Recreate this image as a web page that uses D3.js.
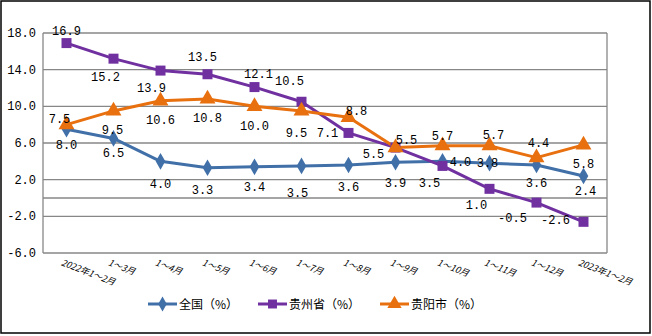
<!DOCTYPE html>
<html><head><meta charset="utf-8">
<script src="https://cdn.jsdelivr.net/npm/d3@7"></script>
<style>body{margin:0;background:#fff}svg{display:block}</style>
</head><body>
<svg id="c" width="652" height="336"></svg>
<script>
const categories = ["2022年1～2月","1～3月","1～4月","1～5月","1～6月","1～7月","1～8月","1～9月","1～10月","1～11月","1～12月","2023年1～2月"];
const national = [7.5, 6.5, 4.0, 3.3, 3.4, 3.5, 3.6, 3.9, 4.0, 3.8, 3.6, 2.4];
const guizhou = [16.9, 15.2, 13.9, 13.5, 12.1, 10.5, 7.1, 5.5, 3.5, 1.0, -0.5, -2.6];
const guiyang = [8.0, 9.5, 10.6, 10.8, 10.0, 9.5, 8.8, 5.5, 5.7, 5.7, 4.4, 5.8];
const yTicks = [18, 14, 10, 6, 2, -2, -6];
const seriesNames = ["全国（%）","贵州省（%）","贵阳市（%）"];

// label offsets (dx, dy) relative to point, per series
const offNational = [[-7,-10],[0,15],[0,23],[-5,22],[0,20],[-4,27],[0,22],[0,21],[18,1],[-2,0],[0,18],[2,15]];
const offGuizhou = [[0,-12],[-8,18],[-9,17],[-5,-17],[4,-13],[-12,-21],[-21,0],[-22,6],[-13,17],[-13,16],[-24,15],[-28,-2]];
const offGuiyang = [[0,20],[-1,19],[0,19],[0,19],[0,20],[-5,22],[8,-6],[11,-8],[0,-10],[4,-11],[2,-15],[0,19]];

const svg = d3.select("#c");
const L = 43, R = 607, T = 33, B = 253;
const x = d3.scaleBand().domain(categories).range([L, R]);
const y = d3.scaleLinear().domain([-6, 18]).range([B, T]);
const cx = c => x(c) + x.bandwidth() / 2;

svg.append("rect").attr("x",1).attr("y",1).attr("width",649).attr("height",332)
  .attr("fill","#fff").attr("stroke","#000").attr("stroke-width",1.5);

const grid = "#878787";
svg.append("g").selectAll("line").data(yTicks).join("line")
  .attr("x1",L).attr("x2",R).attr("y1",d=>y(d)).attr("y2",d=>y(d))
  .attr("stroke",grid).attr("stroke-width",1.3);
svg.append("line").attr("x1",L).attr("x2",R).attr("y1",y(0)).attr("y2",y(0)).attr("stroke",grid).attr("stroke-width",1.3);
svg.append("line").attr("x1",L).attr("x2",L).attr("y1",T).attr("y2",B).attr("stroke",grid).attr("stroke-width",1.3);
svg.append("line").attr("x1",R).attr("x2",R).attr("y1",T).attr("y2",B).attr("stroke",grid).attr("stroke-width",1.3);

const mono = "'Liberation Mono','DejaVu Sans Mono',monospace";
svg.append("g").selectAll("text").data(yTicks).join("text")
  .attr("x",36).attr("y",d=>y(d)+4).attr("text-anchor","end")
  .attr("font-family",mono).attr("font-size",12).attr("fill","#000")
  .text(d=>d.toFixed(1));

// x labels rotated
svg.append("g").selectAll("text").data(categories).join("text")
  .attr("transform",d=>`translate(${cx(d)-6},${265}) rotate(21)`)
  .attr("font-family","'Noto Sans CJK SC',sans-serif").attr("font-size",9).attr("font-style","italic")
  .attr("fill","#000").text(d=>d);

const colors = ["#4170A8","#7030A0","#E8700F"];
const datasets = [national, guizhou, guiyang];
const offsets = [offNational, offGuizhou, offGuiyang];
const line = d3.line().x((d,i)=>cx(categories[i])).y(d=>y(d));
const symbols = [d3.symbolDiamond, d3.symbolSquare, d3.symbolTriangle];
const sizes = [80, 100, 110];

datasets.forEach((ds, k) => {
  svg.append("path").datum(ds).attr("d",line).attr("fill","none")
    .attr("stroke",colors[k]).attr("stroke-width",3).attr("stroke-linejoin","round");
});
datasets.forEach((ds, k) => {
  svg.append("g").selectAll("path").data(ds).join("path")
    .attr("transform",(d,i)=>`translate(${cx(categories[i])},${y(d)})`)
    .attr("d",d3.symbol().type(symbols[k]).size(sizes[k]))
    .attr("fill",colors[k]);
});
datasets.forEach((ds, k) => {
  svg.append("g").selectAll("text").data(ds).join("text")
    .attr("x",(d,i)=>cx(categories[i])+offsets[k][i][0])
    .attr("y",(d,i)=>y(d)+offsets[k][i][1]+4)
    .attr("text-anchor","middle").attr("font-family",mono).attr("font-size",12).attr("fill","#000")
    .text(d=>d.toFixed(1));
});

// legend
const legX = [148, 258, 380];
seriesNames.forEach((n, k) => {
  const g = svg.append("g").attr("transform",`translate(${legX[k]},304)`);
  g.append("line").attr("x1",0).attr("x2",29).attr("stroke",colors[k]).attr("stroke-width",3);
  g.append("path").attr("transform","translate(14.5,0)").attr("d",d3.symbol().type(symbols[k]).size(sizes[k]*0.8)).attr("fill",colors[k]);
  g.append("text").attr("x",31).attr("y",4.5).attr("font-family","'Noto Sans CJK SC',sans-serif")
    .attr("font-size",12).attr("fill","#000").text(n);
});
</script>
</body></html>
